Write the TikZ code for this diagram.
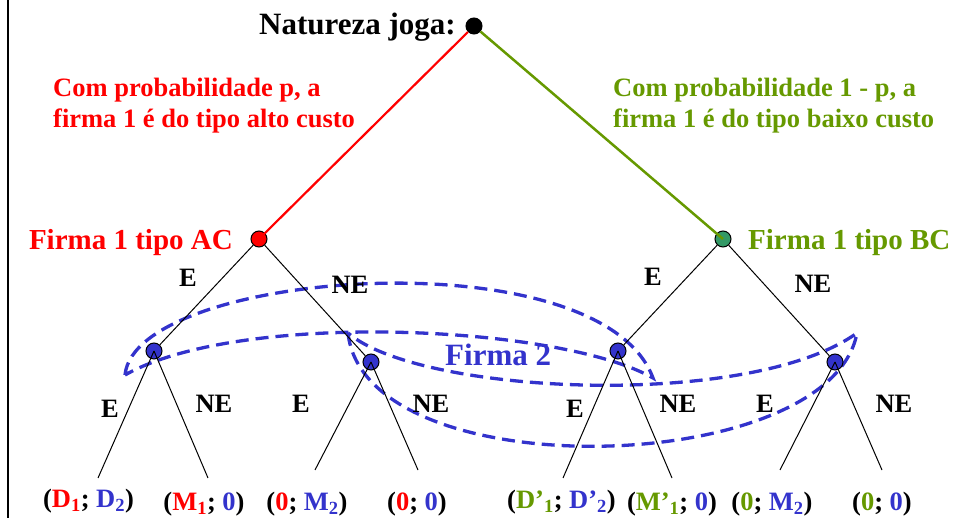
\documentclass[tikz,border=0pt]{standalone}
\usepackage{fontspec}
\setmainfont{Liberation Serif}
\definecolor{cred}{RGB}{255,0,0}
\definecolor{cgreen}{RGB}{102,153,0}
\definecolor{cblue}{RGB}{51,51,204}
\definecolor{cteal}{RGB}{51,153,102}
\begin{document}
\begin{tikzpicture}[x=1pt,y=-1pt,
  dot/.style={circle,draw=black,line width=1pt,inner sep=0pt,minimum size=16pt},
  txt/.style={inner sep=0pt},
  small/.style={txt,anchor=base,font=\fontsize{26.5}{30}\selectfont\bfseries},
  branch/.style={draw=black,line width=1pt},
  infoset/.style={draw=cblue,line width=3.3pt,dash pattern=on 13pt off 7pt}]
\useasboundingbox (0,0) rectangle (954,518);
% left border
\draw[line width=2.5pt] (8,-2) -- (8,520);
% information sets
\draw[infoset] (125,375) .. controls (135,270) and (600,235) .. (653,378)
  .. controls (560,325) and (240,310) .. (125,375);
\draw[infoset] (348,333) .. controls (365,490) and (830,478) .. (857,333)
  .. controls (750,410) and (420,395) .. (348,333);
% nodes
\node[dot,fill=black] (root) at (474,26) {};
\node[dot,fill=cred] (ac) at (259,239) {};
\node[dot,fill=cteal] (bc) at (723,239) {};
\node[dot,fill=cblue] (l1) at (154,351) {};
\node[dot,fill=cblue] (l2) at (371,362) {};
\node[dot,fill=cblue] (r1) at (618,351) {};
\node[dot,fill=cblue] (r2) at (835,362) {};
\coordinate (t1) at (98,478);
\coordinate (t2) at (208,478);
\coordinate (t3) at (315,470);
\coordinate (t4) at (418,470);
\coordinate (t5) at (563,478);
\coordinate (t6) at (672,478);
\coordinate (t7) at (780,470);
\coordinate (t8) at (882,470);
% edges
\draw[cred,line width=2.2pt] (root) -- (ac.center);
\draw[cgreen,line width=2.5pt] (root) -- (bc.center);
\draw[branch] (ac) -- (l1);
\draw[branch] (ac) -- (l2);
\draw[branch] (bc) -- (r1);
\draw[branch] (bc) -- (r2);
\draw[branch] (l1.center) -- (t1);
\draw[branch] (l1.center) -- (t2);
\draw[branch] (l2.center) -- (t3);
\draw[branch] (l2.center) -- (t4);
\draw[branch] (r1.center) -- (t5);
\draw[branch] (r1.center) -- (t6);
\draw[branch] (r2.center) -- (t7);
\draw[branch] (r2.center) -- (t8);
% texts
\node[txt,anchor=base east,font=\fontsize{31}{36}\selectfont\bfseries] (title) at (456,35) {Natureza joga:};
\node[txt,anchor=base west,text=cred,font=\fontsize{26.5}{31}\selectfont\bfseries] (pa1) at (53,97) {Com probabilidade p, a};
\node[txt,anchor=base west,text=cred,font=\fontsize{26.5}{31}\selectfont\bfseries] (pa2) at (53,128) {firma 1 é do tipo alto custo};
\node[txt,anchor=base west,text=cgreen,font=\fontsize{26.5}{31}\selectfont\bfseries] (pb1) at (613,97) {Com probabilidade 1 - p, a};
\node[txt,anchor=base west,text=cgreen,font=\fontsize{26.5}{31}\selectfont\bfseries] (pb2) at (613,128) {firma 1 é do tipo baixo custo};
\node[txt,anchor=base east,text=cred,font=\fontsize{29}{34}\selectfont\bfseries] (acl) at (233,250) {Firma 1 tipo AC};
\node[txt,anchor=base west,text=cgreen,font=\fontsize{29}{34}\selectfont\bfseries] (bcl) at (748,250) {Firma 1 tipo BC};
\node[txt,anchor=base west,text=cblue,font=\fontsize{31}{36}\selectfont\bfseries] (f2) at (445,366) {Firma 2};
% action labels
\node[small] (e1) at (188,287) {E};
\node[small] (ne1) at (350,294) {NE};
\node[small] (e2) at (653,286) {E};
\node[small] (ne2) at (813,293) {NE};
\node[small] (e3) at (110,418) {E};
\node[small] (ne3) at (214,413) {NE};
\node[small] (e4) at (301,413) {E};
\node[small] (ne4) at (431,413) {NE};
\node[small] (e5) at (575,418) {E};
\node[small] (ne5) at (678,413) {NE};
\node[small] (e6) at (765,413) {E};
\node[small] (ne6) at (894,413) {NE};
% payoffs
\node[small] (p1) at (88.5,508) {(\textcolor{cred}{D\textsubscript{1}}; \textcolor{cblue}{D\textsubscript{2}})};
\node[small] (p2) at (204,511) {(\textcolor{cred}{M\textsubscript{1}}; \textcolor{cblue}{0})};
\node[small] (p3) at (307,511) {(\textcolor{cred}{0}; \textcolor{cblue}{M\textsubscript{2}})};
\node[small] (p4) at (417,511) {(\textcolor{cred}{0}; \textcolor{cblue}{0})};
\node[small] (p5) at (561.5,509) {(\textcolor{cgreen}{D’\textsubscript{1}}; \textcolor{cblue}{D’\textsubscript{2}})};
\node[small] (p6) at (672,511) {(\textcolor{cgreen}{M’\textsubscript{1}}; \textcolor{cblue}{0})};
\node[small] (p7) at (772,511) {(\textcolor{cgreen}{0}; \textcolor{cblue}{M\textsubscript{2}})};
\node[small] (p8) at (882,511) {(\textcolor{cgreen}{0}; \textcolor{cblue}{0})};
\end{tikzpicture}
\end{document}
